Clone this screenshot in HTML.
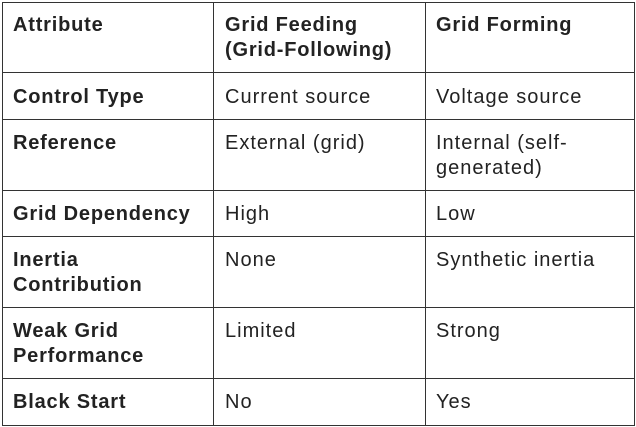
<!DOCTYPE html>
<html><head><style>
body{margin:0;background:#fff;width:636px;height:427px;overflow:hidden;font-family:"Liberation Sans",sans-serif;color:#222;}
.h{position:absolute;left:2px;width:633px;height:1px;background:#333;}
.v{position:absolute;top:2px;height:424px;width:1px;background:#333;}
.t{position:absolute;font-size:20px;letter-spacing:1px;line-height:25px;white-space:nowrap;margin-top:1px;}
.b{font-weight:bold;letter-spacing:0.8px;}
</style></head><body>
<div class="h" style="top:2px"></div><div class="h" style="top:72px"></div><div class="h" style="top:119px"></div><div class="h" style="top:190px"></div><div class="h" style="top:236px"></div><div class="h" style="top:307px"></div><div class="h" style="top:378px"></div><div class="h" style="top:425px"></div>
<div class="v" style="left:2px"></div><div class="v" style="left:213px"></div><div class="v" style="left:425px"></div><div class="v" style="left:634px"></div>

<div class="t b" style="left:13px;top:12px">Attribute</div>
<div class="t b" style="left:225px;top:12px">Grid Feeding<br>(Grid-Following)</div>
<div class="t b" style="left:436px;top:12px">Grid Forming</div>

<div class="t b" style="left:13px;top:84px">Control Type</div>
<div class="t" style="left:225px;top:84px">Current source</div>
<div class="t" style="left:436px;top:84px">Voltage source</div>

<div class="t b" style="left:13px;top:130px">Reference</div>
<div class="t" style="left:225px;top:130px">External (grid)</div>
<div class="t" style="left:436px;top:130px">Internal (self-<br>generated)</div>

<div class="t b" style="left:13px;top:201px">Grid Dependency</div>
<div class="t" style="left:225px;top:201px">High</div>
<div class="t" style="left:436px;top:201px">Low</div>

<div class="t b" style="left:13px;top:247px">Inertia<br>Contribution</div>
<div class="t" style="left:225px;top:247px">None</div>
<div class="t" style="left:436px;top:247px">Synthetic inertia</div>

<div class="t b" style="left:13px;top:318px">Weak Grid<br>Performance</div>
<div class="t" style="left:225px;top:318px">Limited</div>
<div class="t" style="left:436px;top:318px">Strong</div>

<div class="t b" style="left:13px;top:389px">Black Start</div>
<div class="t" style="left:225px;top:389px">No</div>
<div class="t" style="left:436px;top:389px">Yes</div>
</body></html>
